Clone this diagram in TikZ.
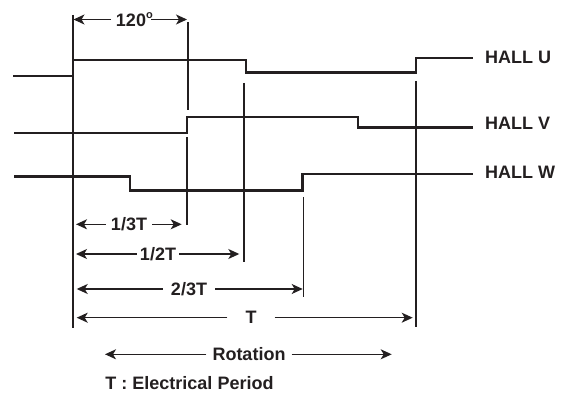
\documentclass[tikz,border=0pt]{standalone}
\usepackage{fontspec}
\setmainfont{Liberation Sans}
\usepackage{xcolor}
\usetikzlibrary{arrows.meta,positioning}
\definecolor{ink}{HTML}{231F20}

\begin{document}
\begin{tikzpicture}[
  x=1pt, y=-1pt, color=ink,
  font=\fontsize{18}{20}\selectfont\bfseries,
  sig/.style={line width=2.7pt, line join=miter},
  tickln/.style={line width=1.2pt},
  dim/.style={line width=1.3pt, -{Stealth[length=11pt,width=10pt,inset=3pt]}},
  lbl/.style={inner ysep=0pt, inner xsep=5pt},
  hall/.style={anchor=west, inner sep=0pt}
]
\useasboundingbox (0,0) rectangle (568,395);

% hall signals
\draw[sig] (13,76) -- (73,76) -- (73,60) -- (246,60) -- (246,72.5) -- (416,72.5) -- (416,58) -- (473,58);
\draw[sig] (14,133) -- (187,133) -- (187,117) -- (358,117) -- (358,127.7) -- (473,127.7);
\draw[sig] (14,176.7) -- (130,176.7) -- (130,190.7) -- (302.7,190.7) -- (302.7,174) -- (473,174);
\node[hall] (hu) at (485,57) {HALL U};
\node[hall] (hv) at (485,123.5) {HALL V};
\node[hall] (hw) at (485,172.5) {HALL W};

% reference lines
\draw[tickln] (73,15) -- (73,328);
\draw[tickln] (188,22) -- (188,110);
\draw[tickln] (187,137) -- (187,225);
\draw[tickln] (244,83) -- (244,262);
\draw[tickln] (303.3,197) -- (303.3,297);
\draw[tickln] (416,81) -- (416,327);

% dimensions
\coordinate (d120l) at (73.5,19.5);
\coordinate (d120r) at (187,19.5);
\node[lbl] (d120) at (131,19.5) {120\rlap{\raisebox{8pt}{\fontsize{11}{11}\selectfont o}}};
\draw[dim] (d120) -- (d120l);
\draw[dim] (d120) -- (d120r);

\coordinate (d13l) at (76,224.3);
\coordinate (d13r) at (181.7,224.3);
\node[lbl] (d13) at (129,224.3) {1/3T};
\draw[dim] (d13) -- (d13l);
\draw[dim] (d13) -- (d13r);

\coordinate (d12l) at (76,254);
\coordinate (d12r) at (239.3,254);
\node[lbl, inner xsep=3pt] (d12) at (158,254) {1/2T};
\draw[dim] (d12) -- (d12l);
\draw[dim] (d12) -- (d12r);

\coordinate (d23l) at (76.7,289);
\coordinate (d23r) at (302.7,289);
\node[lbl, inner xsep=8pt] (d23) at (189,289) {2/3T};
\draw[dim] (d23) -- (d23l);
\draw[dim] (d23) -- (d23r);

\coordinate (dtl) at (76.7,317.7);
\coordinate (dtr) at (412.7,317.7);
\node[lbl, inner xsep=18pt] (dt) at (251,317.7) {T};
\draw[dim] (dt) -- (dtl);
\draw[dim] (dt) -- (dtr);

\coordinate (rotl) at (105,354.3);
\coordinate (rotr) at (391.7,354.3);
\node[lbl, inner xsep=6pt] (rot) at (249,354.3) {Rotation};
\draw[dim] (rot) -- (rotl);
\draw[dim] (rot) -- (rotr);

\node (note) at (189.5,383) {T : Electrical Period};
\end{tikzpicture}
\end{document}
